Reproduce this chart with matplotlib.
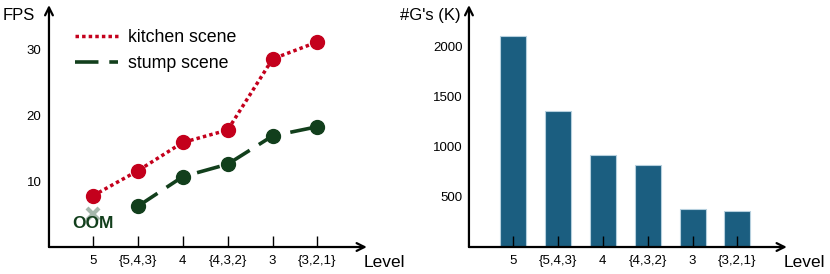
import matplotlib.pyplot as plt
import numpy as np

plt.rcParams['font.family'] = ['Liberation Sans', 'DejaVu Sans']

# data
levels = ['5', '{5,4,3}', '4', '{4,3,2}', '3', '{3,2,1}']
kitchen_fps = [7.8, 11.6, 15.9, 17.8, 28.6, 31.2]
stump_fps = [6.2, 10.7, 12.6, 16.9, 18.3]       # level 5 ran out of memory
stump_oom_fps = 5.0
num_gaussians = [2100, 1356, 921, 816, 383, 360]

red = '#c4001c'
green = '#123f1c'
bar_col = '#1b5e80'

fig = plt.figure(figsize=(8.3, 2.74), dpi=100)
ax1 = fig.add_axes([0.059, 0.0985, 0.383, 0.883])
ax2 = fig.add_axes([0.565, 0.0985, 0.383, 0.883])

x = np.arange(len(levels))


def style_axes(ax, ylab, ylab_x, ypad):
    for s in ax.spines.values():
        s.set_visible(False)
    # arrowed axes
    ax.annotate('', xy=(1, 0), xytext=(0, 0), xycoords='axes fraction',
                arrowprops=dict(arrowstyle='->', lw=1.6, color='black',
                                mutation_scale=14, shrinkA=0, shrinkB=0))
    ax.annotate('', xy=(0, 1), xytext=(0, 0), xycoords='axes fraction',
                arrowprops=dict(arrowstyle='->', lw=1.6, color='black',
                                mutation_scale=14, shrinkA=0, shrinkB=0))
    ax.set_xticks(x)
    ax.set_xticklabels(levels)
    ax.tick_params(axis='x', direction='in', length=8, width=1.0,
                   labelsize=9.5, pad=6)
    ax.tick_params(axis='y', length=0, labelsize=9.5, pad=ypad)
    ax.set_xlim(-0.98, 6.1)
    ax.text(0.99, -0.066, 'Level', transform=ax.transAxes, fontsize=12.5,
            ha='left', va='center')
    fig.text(ylab_x, 0.945, ylab, fontsize=12, ha='left', va='center')


# left: FPS lines
ax1.plot(x, kitchen_fps, color=red, lw=2.5, linestyle=(0, (1, 0.9)),
         marker='o', markersize=10, label='kitchen scene')
ax1.plot(x[1:], stump_fps, color=green, lw=2.6, linestyle=(0, (6.5, 3)),
         marker='o', markersize=10, label='stump scene')
ax1.plot([0], [stump_oom_fps], marker='x', color='#9bb0a3', markersize=8,
         mew=3, alpha=0.9)
ax1.text(0, 3.6, 'OOM', color=green, fontsize=12.5, fontweight='bold',
         ha='center', va='center')
ax1.set_ylim(0, 36.8)
ax1.set_yticks([10, 20, 30])
leg = ax1.legend(loc='upper left', bbox_to_anchor=(0.06, 0.93), frameon=False,
                 fontsize=12.8, handlelength=2.4, handletextpad=0.55,
                 labelspacing=0.5, borderaxespad=0)
for h in leg.get_lines():
    h.set_marker('')
style_axes(ax1, 'FPS', 0.003, 5.5)

# right: number of Gaussians
ax2.bar(x, num_gaussians, width=0.58, color=bar_col, edgecolor='#b6d0de',
        linewidth=0.8)
ax2.set_ylim(0, 2410)
ax2.set_yticks([500, 1000, 1500, 2000])
style_axes(ax2, "#G's (K)", 0.482, 4.5)

fig.savefig('out.png', dpi=100)
